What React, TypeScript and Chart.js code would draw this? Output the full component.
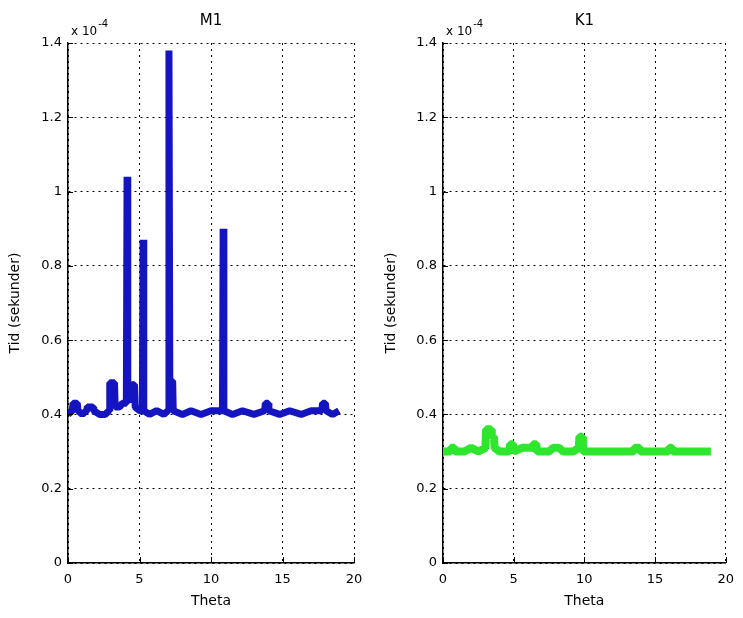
import React, { useEffect, useRef } from "react";
import { Chart, registerables } from "chart.js";

Chart.register(...registerables);

// M1: Theta positions and time (x 1e-4 s)
const m1Theta = [
  0, 0.3, 0.35, 0.65, 0.7, 1.0, 1.3, 1.35, 1.75, 1.8,
  2.2, 2.4, 2.6, 2.88, 2.92, 3.25, 3.3, 3.6, 3.8, 4.08,
  4.13, 4.18, 4.42, 4.45, 4.65, 4.7, 5.0, 5.2, 5.25, 5.3,
  5.7, 6.2, 6.7, 7.0, 7.06, 7.12, 7.32, 7.36, 8.0, 8.6,
  9.3, 10.0, 10.8, 10.85, 10.9, 11.5, 12.2, 13.0, 13.75, 13.8,
  14.0, 14.05, 14.8, 15.5, 16.3, 17.0, 17.75, 17.8, 18.0, 18.05,
  18.5, 18.95,
];
const m1Tid = [
  0.40, 0.41, 0.43, 0.43, 0.41, 0.40, 0.41, 0.42, 0.42, 0.41,
  0.40, 0.40, 0.40, 0.41, 0.485, 0.485, 0.42, 0.42, 0.43, 0.43,
  1.04, 0.44, 0.44, 0.48, 0.48, 0.42, 0.41, 0.41, 0.87, 0.41,
  0.40, 0.41, 0.40, 0.41, 1.38, 0.49, 0.49, 0.41, 0.40, 0.41,
  0.40, 0.41, 0.41, 0.90, 0.41, 0.40, 0.41, 0.40, 0.41, 0.43,
  0.43, 0.41, 0.40, 0.41, 0.40, 0.41, 0.41, 0.43, 0.43, 0.41,
  0.40, 0.41,
];

// K1: Theta positions and time (x 1e-4 s)
const k1Theta = [
  0, 0.5, 0.55, 0.8, 0.85, 1.5, 2.0, 2.5, 3.0, 3.05,
  3.4, 3.45, 3.6, 3.65, 4.0, 4.7, 4.75, 4.95, 5.0, 5.6,
  6.3, 6.35, 6.6, 6.65, 7.5, 7.8, 8.2, 8.5, 9.2, 9.6,
  9.65, 9.85, 9.9, 10.8, 11.5, 12.3, 13.5, 13.55, 13.9, 13.95,
  15.0, 15.95, 16.0, 16.2, 16.25, 17.5, 18.95,
];
const k1Tid = [
  0.30, 0.30, 0.31, 0.31, 0.30, 0.30, 0.31, 0.30, 0.31, 0.36,
  0.36, 0.34, 0.34, 0.31, 0.30, 0.30, 0.32, 0.32, 0.30, 0.31,
  0.31, 0.32, 0.32, 0.30, 0.30, 0.31, 0.31, 0.30, 0.30, 0.31,
  0.34, 0.34, 0.30, 0.30, 0.30, 0.30, 0.30, 0.31, 0.31, 0.30,
  0.30, 0.30, 0.31, 0.31, 0.30, 0.30, 0.30,
];

const xTickValues = [0, 5, 10, 15, 20];
const yTickValues = [0, 0.2, 0.4, 0.6, 0.8, 1, 1.2, 1.4];
const yTickLabels = ["0", "0.2", "0.4", "0.6", "0.8", "1", "1.2", "1.4"];
const panelTitles = ["M1", "K1"];
const yAxisTitle = "Tid (sekunder)";
const xAxisTitle = "Theta";
const exponentBase = "x 10";
const exponentPower = "-4";

const FONT = "'DejaVu Sans', 'Liberation Sans', sans-serif";
const CANVAS_H = 618;
const PLOT_TOP = 43;
const PLOT_BOTTOM = 563;

type PanelProps = {
  title: string;
  xs: number[];
  values: number[];
  color: string;
  lineWidth: number;
  left: number;
  width: number;
  axisWidth: number;
  padRight: number;
  yTitlePad: number;
};

function Panel(p: PanelProps) {
  const ref = useRef<HTMLCanvasElement | null>(null);

  useEffect(() => {
    const canvas = ref.current;
    if (!canvas) return;

    const decorations = {
      id: "decor",
      afterDraw(chart: any) {
        const { ctx, chartArea: a, scales } = chart;
        ctx.save();
        ctx.setLineDash([]);
        ctx.strokeStyle = "#000";
        ctx.lineWidth = 1;
        ctx.beginPath();
        xTickValues.forEach((v) => {
          const x = Math.round(scales.x.getPixelForValue(v)) + 0.5;
          ctx.moveTo(x, a.bottom);
          ctx.lineTo(x, a.bottom - 6);
        });
        yTickValues.forEach((v) => {
          const y = Math.round(scales.y.getPixelForValue(v)) + 0.5;
          ctx.moveTo(a.left, y);
          ctx.lineTo(a.left + 5, y);
        });
        ctx.stroke();

        ctx.fillStyle = "#000";
        ctx.font = `15px ${FONT}`;
        ctx.textAlign = "center";
        ctx.textBaseline = "middle";
        ctx.fillText(p.title, (a.left + a.right) / 2, 21);

        ctx.textAlign = "left";
        ctx.textBaseline = "alphabetic";
        ctx.font = `12px ${FONT}`;
        ctx.fillText(exponentBase, a.left + 3, 35);
        const w = ctx.measureText(exponentBase).width;
        ctx.font = `10px ${FONT}`;
        ctx.fillText(exponentPower, a.left + 3 + w + 1, 27);
        ctx.restore();
      },
    };

    const chart = new Chart(canvas, {
      type: "line",
      data: {
        datasets: [
          {
            data: p.xs.map((t, i) => ({ x: t, y: p.values[i] })),
            borderColor: p.color,
            borderWidth: p.lineWidth,
            pointRadius: 0,
            tension: 0,
            fill: false,
            borderJoinStyle: "bevel",
          },
        ],
      },
      options: {
        animation: false,
        responsive: false,
        maintainAspectRatio: false,
        devicePixelRatio: 1,
        layout: { padding: { left: 0, right: p.padRight, top: PLOT_TOP, bottom: 0 } },
        plugins: {
          legend: { display: false },
          tooltip: { enabled: false },
          title: { display: false },
        },
        scales: {
          x: {
            type: "linear",
            min: 0,
            max: 20,
            afterBuildTicks: (s: any) => {
              s.ticks = xTickValues.map((v) => ({ value: v }));
            },
            afterFit: (s: any) => {
              s.height = CANVAS_H - PLOT_BOTTOM;
            },
            ticks: {
              autoSkip: false,
              maxRotation: 0,
              padding: 9,
              color: "#000",
              font: { family: FONT, size: 13 },
              callback: (v: any) => String(v),
            },
            grid: { color: "#000", lineWidth: 1, drawTicks: false },
            border: { display: true, color: "#000", width: 1.5, dash: [2, 4] },
            title: {
              display: true,
              text: xAxisTitle,
              color: "#000",
              font: { family: FONT, size: 14 },
              padding: { top: 0, bottom: 8 },
            },
          },
          y: {
            type: "linear",
            min: 0,
            max: 1.4,
            afterBuildTicks: (s: any) => {
              s.ticks = yTickValues.map((v) => ({ value: v }));
            },
            afterFit: (s: any) => {
              s.width = p.axisWidth;
            },
            ticks: {
              autoSkip: false,
              padding: 6,
              color: "#000",
              font: { family: FONT, size: 13 },
              callback: (_v: any, i: number) => yTickLabels[i],
            },
            grid: { color: "#000", lineWidth: 1, drawTicks: false },
            border: { display: true, color: "#000", width: 1.5, dash: [2, 4] },
            title: {
              display: true,
              text: yAxisTitle,
              color: "#000",
              font: { family: FONT, size: 14 },
              padding: { top: p.yTitlePad, bottom: 0 },
            },
          },
        },
      } as any,
      plugins: [decorations],
    });

    return () => chart.destroy();
  }, []);

  return (
    <canvas
      ref={ref}
      width={p.width}
      height={CANVAS_H}
      style={{ position: "absolute", left: p.left, top: 0, width: p.width, height: CANVAS_H }}
    />
  );
}

export default function App() {
  return (
    <div
      style={{
        position: "fixed",
        left: 0,
        top: 0,
        width: 743,
        height: 618,
        background: "#fff",
        overflow: "hidden",
      }}
    >
      <Panel
        title={panelTitles[0]}
        xs={m1Theta}
        values={m1Tid}
        color="#1414c0"
        lineWidth={7}
        left={0}
        width={372}
        axisWidth={68}
        padRight={18}
        yTitlePad={7}
      />
      <Panel
        title={panelTitles[1]}
        xs={k1Theta}
        values={k1Tid}
        color="#2ee62e"
        lineWidth={8}
        left={372}
        width={371}
        axisWidth={71}
        padRight={14}
        yTitlePad={11}
      />
    </div>
  );
}
